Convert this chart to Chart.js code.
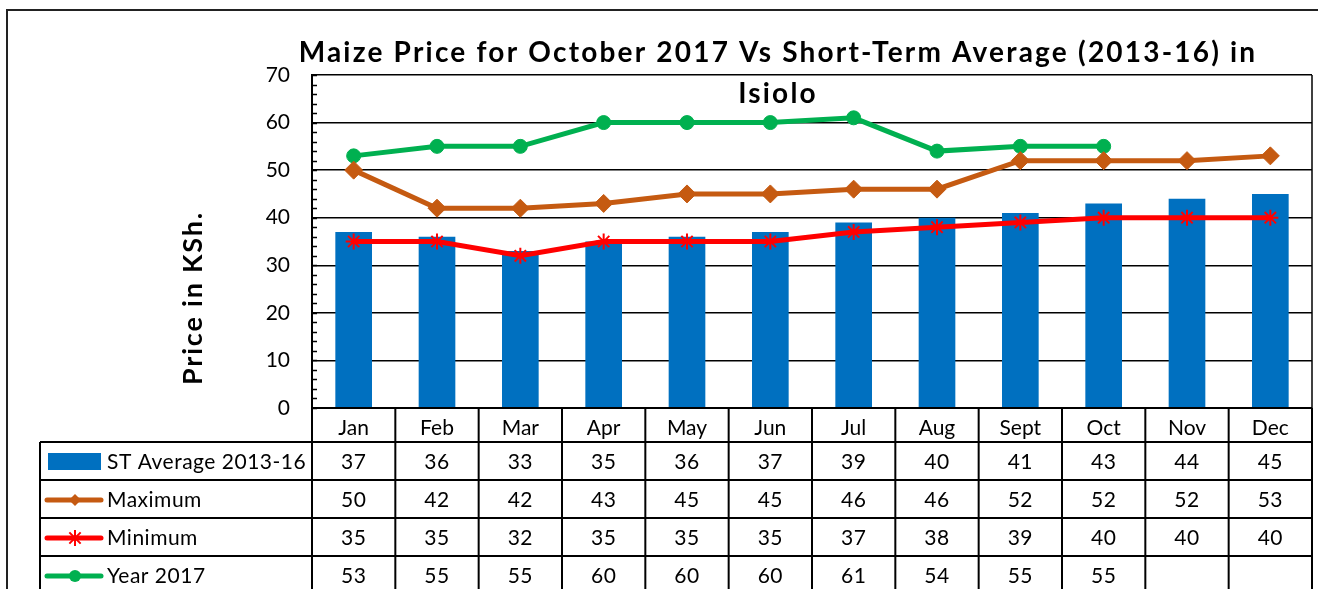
<!DOCTYPE html>
<html>
<head>
<meta charset="utf-8">
<script src="https://cdn.jsdelivr.net/npm/chart.js@4"></script>
<style>
  html, body { margin: 0; padding: 0; background: #fff; }
  canvas { display: block; }
</style>
</head>
<body>
<canvas id="chart" width="1318" height="589"></canvas>
<script>
// chart data
const months = ['Jan', 'Feb', 'Mar', 'Apr', 'May', 'Jun', 'Jul', 'Aug', 'Sept', 'Oct', 'Nov', 'Dec'];
const stAverage = [37, 36, 33, 35, 36, 37, 39, 40, 41, 43, 44, 45];
const maximum = [50, 42, 42, 43, 45, 45, 46, 46, 52, 52, 52, 53];
const minimum = [35, 35, 32, 35, 35, 35, 37, 38, 39, 40, 40, 40];
const year2017 = [53, 55, 55, 60, 60, 60, 61, 54, 55, 55, null, null];

const titleLines = ['Maize Price for October 2017 Vs Short-Term Average (2013-16) in', 'Isiolo'];
const yTitle = 'Price in KSh.';

const FONT = 'Lato, "Open Sans", sans-serif';
const BLUE = '#0070C0', ORANGE = '#C55A11', RED = '#FF0000', GREEN = '#00B050';

// table rows (legend key + values)
const tableRows = [
    { label: 'ST Average 2013-16', values: stAverage, color: BLUE, key: 'bar' },
    { label: 'Maximum', values: maximum, color: ORANGE, key: 'rectRot' },
    { label: 'Minimum', values: minimum, color: RED, key: 'star' },
    { label: 'Year 2017', values: year2017, color: GREEN, key: 'circle' }
];

const HEADER_H = 34, ROW_H = 38, TABLE_LEFT = 40;

const drawMarker = (ctx, style, color, x, y) => {
    ctx.save();
    ctx.fillStyle = color;
    ctx.strokeStyle = color;
    ctx.lineWidth = 2;
    ctx.beginPath();
    if (style === 'circle') {
        ctx.arc(x, y, 6, 0, Math.PI * 2);
        ctx.fill();
    } else if (style === 'rectRot') {
        ctx.moveTo(x, y - 6); ctx.lineTo(x + 6, y); ctx.lineTo(x, y + 6); ctx.lineTo(x - 6, y);
        ctx.closePath();
        ctx.fill();
    } else if (style === 'star') {
        const r = 8, d = r * 0.707;
        ctx.moveTo(x - r, y); ctx.lineTo(x + r, y);
        ctx.moveTo(x, y - r); ctx.lineTo(x, y + r);
        ctx.moveTo(x - d, y - d); ctx.lineTo(x + d, y + d);
        ctx.moveTo(x - d, y + d); ctx.lineTo(x + d, y - d);
        ctx.stroke();
    }
    ctx.restore();
};

const tablePlugin = {
    id: 'dataTable',
    beforeDatasetsDraw(chart) {
        // plot area right edge
        const { ctx, chartArea: a } = chart;
        ctx.save();
        ctx.strokeStyle = '#000';
        ctx.lineWidth = 1.5;
        ctx.beginPath();
        ctx.moveTo(a.right, a.top); ctx.lineTo(a.right, a.bottom);
        ctx.stroke();
        ctx.restore();
    },
    afterDraw(chart) {
        const { ctx, chartArea: a, scales: { x, y } } = chart;
        const W = chart.width, H = chart.height;
        ctx.save();

        // outer frame
        ctx.strokeStyle = '#222';
        ctx.lineWidth = 2;
        ctx.beginPath();
        ctx.moveTo(7, H + 2); ctx.lineTo(7, 10); ctx.lineTo(W + 2, 10);
        ctx.stroke();

        // minor ticks on the value axis
        ctx.strokeStyle = '#000';
        ctx.lineWidth = 1.5;
        ctx.beginPath();
        for (let v = 0; v <= 70; v += 2) {
            const py = Math.round(y.getPixelForValue(v)) + 0.5;
            ctx.moveTo(a.left, py); ctx.lineTo(a.left + 5, py);
        }
        ctx.stroke();

        // table grid
        const top = a.bottom, rowTop = top + HEADER_H;
        ctx.lineWidth = 2;
        ctx.beginPath();
        ctx.moveTo(a.left, top); ctx.lineTo(a.right, top);
        for (let r = 0; r < tableRows.length; r++) {
            const ly = rowTop + r * ROW_H;
            ctx.moveTo(TABLE_LEFT, ly); ctx.lineTo(a.right, ly);
        }
        ctx.moveTo(TABLE_LEFT, rowTop); ctx.lineTo(TABLE_LEFT, H + 2);
        const edges = [a.left];
        for (let i = 0; i < months.length - 1; i++) {
            edges.push((x.getPixelForValue(i) + x.getPixelForValue(i + 1)) / 2);
        }
        edges.push(a.right);
        edges.forEach(ex => { ctx.moveTo(ex, top); ctx.lineTo(ex, H + 2); });
        ctx.stroke();

        // cell values and legend keys
        ctx.fillStyle = '#000';
        ctx.font = '21px ' + FONT;
        ctx.letterSpacing = '0.5px';
        ctx.textBaseline = 'middle';
        tableRows.forEach((row, r) => {
            const cy = rowTop + r * ROW_H + ROW_H / 2 + 1;
            ctx.textAlign = 'center';
            row.values.forEach((v, i) => {
                if (v !== null) ctx.fillText(String(v), x.getPixelForValue(i), cy);
            });
            if (row.key === 'bar') {
                ctx.fillStyle = row.color;
                ctx.fillRect(48, cy - 9, 53, 17);
                ctx.fillStyle = '#000';
            } else {
                ctx.save();
                ctx.strokeStyle = row.color;
                ctx.lineWidth = 5;
                ctx.lineCap = 'round';
                ctx.beginPath();
                ctx.moveTo(47, cy); ctx.lineTo(101, cy);
                ctx.stroke();
                ctx.restore();
                drawMarker(ctx, row.key, row.color, 75, cy);
            }
            ctx.textAlign = 'left';
            ctx.fillText(row.label, 107, cy);
        });

        // titles
        ctx.fillStyle = '#000';
        ctx.textAlign = 'center';
        ctx.textBaseline = 'alphabetic';
        ctx.font = 'bold 28px ' + FONT;
        ctx.letterSpacing = '2.2px';
        ctx.fillText(titleLines[0], 778, 62);
        ctx.fillText(titleLines[1], 778, 103);

        ctx.save();
        ctx.translate(193, 298);
        ctx.rotate(-Math.PI / 2);
        ctx.font = 'bold 27px ' + FONT;
        ctx.letterSpacing = '1.8px';
        ctx.textBaseline = 'middle';
        ctx.fillText(yTitle, 0, 0);
        ctx.restore();

        ctx.restore();
    }
};

new Chart(document.getElementById('chart'), {
    type: 'bar',
    data: {
        labels: months,
        datasets: [
            {
                type: 'line', label: 'Minimum', data: minimum, order: 1,
                borderColor: RED, borderWidth: 5, pointStyle: 'star', pointRadius: 8,
                pointBorderWidth: 2, pointBorderColor: RED, pointBackgroundColor: RED, tension: 0
            },
            {
                type: 'line', label: 'Maximum', data: maximum, order: 2,
                borderColor: ORANGE, borderWidth: 5, pointStyle: 'rectRot', pointRadius: 9,
                pointBorderWidth: 1, pointBorderColor: ORANGE, pointBackgroundColor: ORANGE, tension: 0
            },
            {
                type: 'line', label: 'Year 2017', data: year2017, order: 3,
                borderColor: GREEN, borderWidth: 5, pointStyle: 'circle', pointRadius: 7,
                pointBorderWidth: 1, pointBorderColor: GREEN, pointBackgroundColor: GREEN, tension: 0
            },
            {
                type: 'bar', label: 'ST Average 2013-16', data: stAverage, order: 5,
                backgroundColor: BLUE, borderWidth: 0, categoryPercentage: 1, barPercentage: 0.44
            }
        ]
    },
    options: {
        responsive: false,
        animation: false,
        layout: { autoPadding: false, padding: { left: 0, right: 6, top: 75, bottom: 0 } },
        plugins: {
            legend: { display: false },
            title: { display: false },
            tooltip: { enabled: false }
        },
        scales: {
            x: {
                grid: { display: false, drawTicks: false },
                border: { display: false },
                ticks: { color: '#000', font: { family: FONT, size: 21 }, padding: 8, maxRotation: 0, autoSkip: false },
                afterFit: s => { s.height = 181; s.paddingLeft = 0; s.paddingRight = 0; }
            },
            y: {
                min: 0, max: 70,
                grid: { color: '#000', lineWidth: 1.5, drawTicks: false },
                border: { display: true, color: '#000', width: 2 },
                ticks: { stepSize: 10, color: '#000', font: { family: FONT, size: 21 }, padding: 22 },
                afterFit: s => { s.width = 312; }
            }
        }
    },
    plugins: [tablePlugin]
});
</script>
</body>
</html>
